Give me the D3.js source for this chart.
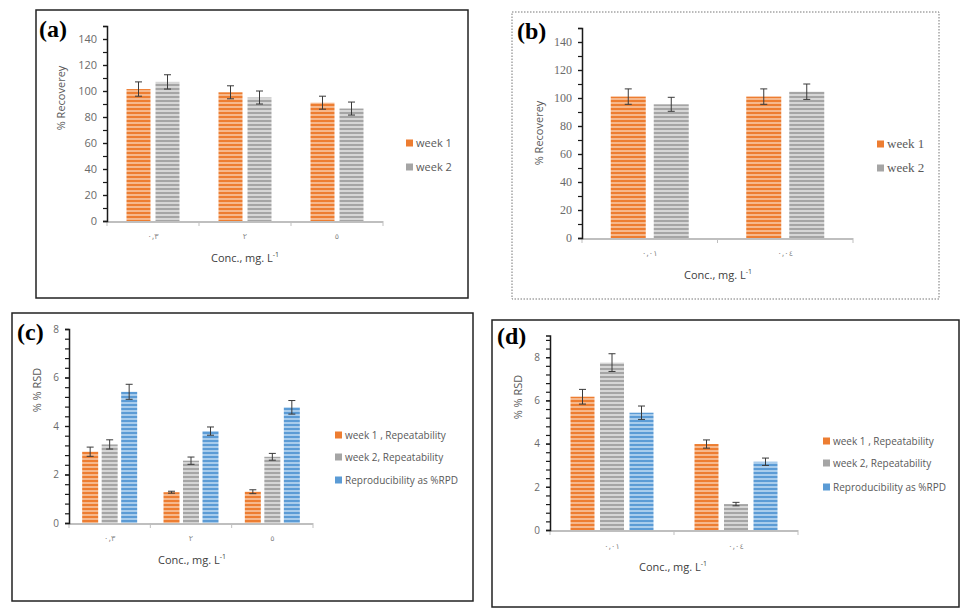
<!DOCTYPE html>
<html>
<head>
<meta charset="utf-8">
<script src="https://cdn.jsdelivr.net/npm/d3@7"></script>
<style>
  body { margin: 0; background: #fff; }
</style>
</head>
<body>
<div id="chart"></div>
<script>
// DATA
var catsA = ["٠,٣", "٢", "٥"];
var recWeek1A = [101.5, 99, 91];
var recErr1A = [5.5, 5, 5];
var recWeek2A = [107, 95, 86.5];
var recErr2A = [5.5, 5, 5];

var catsB = ["٠,٠١", "٠,٠٤"];
var recWeek1B = [101, 101];
var recErr1B = [5.5, 5.5];
var recWeek2B = [95.5, 104.5];
var recErr2B = [5, 5.5];

var rsdWeek1C = [2.94, 1.27, 1.29];
var rsdErr1C = [0.19, 0.04, 0.08];
var rsdWeek2C = [3.24, 2.57, 2.73];
var rsdErr2C = [0.19, 0.15, 0.14];
var rsdRepC = [5.41, 3.79, 4.77];
var rsdErrRepC = [0.31, 0.17, 0.28];

var rsdWeek1D = [6.17, 3.98];
var rsdErr1D = [0.34, 0.19];
var rsdWeek2D = [7.75, 1.2];
var rsdErr2D = [0.41, 0.08];
var rsdRepD = [5.43, 3.16];
var rsdErrRepD = [0.31, 0.17];

var recSeries = ["week 1", "week 2"];
var rsdSeries = ["week 1 , Repeatability", "week 2, Repeatability", "Reproducibility as %RPD"];
var recTicks = [0, 20, 40, 60, 80, 100, 120, 140];
var rsdTicks = [0, 2, 4, 6, 8];

var SANS = "'Open Sans', 'DejaVu Sans', sans-serif";
var SERIF = "'Liberation Serif', 'DejaVu Serif', serif";

var svg = d3.select("#chart").append("svg")
  .attr("width", 969)
  .attr("height", 614);

// STRIPED FILLS
var colors = [
  { id: "orange", dark: "#ED7D31", light: "#F6B88C" },
  { id: "gray", dark: "#A5A5A5", light: "#D6D6D6" },
  { id: "blue", dark: "#5B9BD5", light: "#A8CCEC" }
];
var defs = svg.append("defs");
colors.forEach(function(c) {
  var p = defs.append("pattern")
    .attr("id", "stripe-" + c.id)
    .attr("patternUnits", "userSpaceOnUse")
    .attr("width", 8)
    .attr("height", 4);
  p.append("rect").attr("width", 8).attr("height", 4).attr("fill", c.light);
  p.append("rect").attr("width", 8).attr("height", 2).attr("fill", c.dark);
});

function drawPanel(cfg) {
  var g = svg.append("g");

  // frame
  g.append("rect")
    .attr("x", cfg.frame[0])
    .attr("y", cfg.frame[1])
    .attr("width", cfg.frame[2] - cfg.frame[0])
    .attr("height", cfg.frame[3] - cfg.frame[1])
    .attr("fill", "none")
    .attr("stroke", cfg.dotted ? "#777" : "#222")
    .attr("stroke-width", cfg.dotted ? 1 : 1.5)
    .attr("stroke-dasharray", cfg.dotted ? "1.5,1.5" : null);

  var y = d3.scaleLinear().domain([0, cfg.yMax]).range([cfg.base, cfg.top]);
  var x = d3.scaleBand().domain(cfg.cats).range([cfg.x0, cfg.x1]);

  var n = cfg.series.length;
  var step = cfg.barW + cfg.gap;
  var pIn = cfg.gap / step;
  var pOut = (x.bandwidth() / step - n + pIn) / 2;
  var xs = d3.scaleBand().domain(d3.range(n)).range([0, x.bandwidth()])
    .paddingInner(pIn).paddingOuter(pOut);

  // bars
  cfg.values.forEach(function(vals, s) {
    var sg = g.append("g");
    sg.selectAll("rect")
      .data(vals)
      .enter()
      .append("rect")
      .attr("x", (d, i) => x(cfg.cats[i]) + xs(s))
      .attr("y", d => y(d))
      .attr("width", xs.bandwidth())
      .attr("height", d => y(0) - y(d))
      .attr("fill", "url(#stripe-" + colors[s].id + ")");

    // error bars
    var eg = sg.selectAll("g.err")
      .data(vals)
      .enter()
      .append("g")
      .attr("stroke", "#3a3a3a")
      .attr("stroke-width", 1);
    eg.each(function(d, i) {
      var e = cfg.errors[s][i];
      var cx = x(cfg.cats[i]) + xs(s) + xs.bandwidth() / 2;
      var el = d3.select(this);
      el.append("line").attr("x1", cx).attr("x2", cx).attr("y1", y(d + e)).attr("y2", y(d - e));
      el.append("line").attr("x1", cx - 3.5).attr("x2", cx + 3.5).attr("y1", y(d + e)).attr("y2", y(d + e));
      el.append("line").attr("x1", cx - 3.5).attr("x2", cx + 3.5).attr("y1", y(d - e)).attr("y2", y(d - e));
    });
  });

  // x axis
  var xAxis = g.append("g");
  xAxis.append("line")
    .attr("x1", cfg.x0).attr("x2", cfg.x1)
    .attr("y1", cfg.base + 1).attr("y2", cfg.base + 1)
    .attr("stroke", "#BFBFBF").attr("stroke-width", 2);
  xAxis.selectAll("line.tk")
    .data(cfg.cats.map(c => x(c)).concat([cfg.x1]))
    .enter()
    .append("line")
    .attr("x1", d => d).attr("x2", d => d)
    .attr("y1", cfg.base).attr("y2", cfg.base + 5)
    .attr("stroke", "#BFBFBF").attr("stroke-width", 1);
  xAxis.selectAll("text")
    .data(cfg.cats)
    .enter()
    .append("text")
    .attr("x", d => x(d) + x.bandwidth() / 2)
    .attr("y", cfg.catY)
    .attr("text-anchor", "middle")
    .style("font-family", "'DejaVu Sans', sans-serif")
    .style("font-size", "8px")
    .attr("fill", "#8a8a8a")
    .text(d => d);

  // y axis: minor ticks then labelled ticks
  var minor = d3.range(0, cfg.minorMax + cfg.minorStep / 2, cfg.minorStep);
  g.append("g")
    .attr("transform", `translate(${cfg.x0}, 0)`)
    .call(d3.axisLeft(y).tickValues(minor).tickSize(4).tickFormat(""))
    .call(a => a.select(".domain").attr("stroke", "#1a1a1a").attr("stroke-width", 1.5))
    .call(a => a.selectAll(".tick line").attr("stroke", "#1a1a1a").attr("stroke-width", 1.2));
  g.append("g")
    .attr("transform", `translate(${cfg.x0}, 0)`)
    .call(d3.axisLeft(y).tickValues(cfg.ticks).tickSize(4).tickPadding(6))
    .call(a => a.select(".domain").remove())
    .call(a => a.selectAll(".tick line").attr("stroke", "#1a1a1a").attr("stroke-width", 1.2))
    .call(a => a.selectAll(".tick text")
      .style("font-family", cfg.serif ? SERIF : SANS)
      .style("font-size", cfg.tickSize + "px")
      .attr("fill", "#6a6a6a"));

  // axis titles
  g.append("text")
    .attr("transform", `translate(${cfg.yLabel[0]}, ${cfg.yLabel[1]}) rotate(-90)`)
    .attr("text-anchor", "middle")
    .style("font-family", SANS)
    .style("font-size", "11px")
    .attr("fill", "#595959")
    .text(cfg.yTitle);

  var xt = g.append("text")
    .attr("x", cfg.xTitle[0])
    .attr("y", cfg.xTitle[1])
    .attr("text-anchor", "middle")
    .style("font-family", SANS)
    .style("font-size", "11px")
    .attr("fill", "#404040");
  xt.append("tspan").text("Conc., mg. L");
  xt.append("tspan").attr("dy", -5).style("font-size", "7px").text("-1");

  // legend
  var lg = g.selectAll("g.legend")
    .data(cfg.series)
    .enter()
    .append("g")
    .attr("transform", (d, i) => `translate(${cfg.legendX}, ${cfg.legendY[i]})`);
  lg.append("rect")
    .attr("x", 0).attr("y", -3.5)
    .attr("width", 7).attr("height", 7)
    .attr("fill", (d, i) => colors[i].dark);
  lg.append("text")
    .attr("x", 10)
    .attr("y", 4)
    .style("font-family", cfg.serif ? SERIF : SANS)
    .style("font-size", cfg.legendSize + "px")
    .attr("fill", "#595959")
    .text(d => d);

  // panel letter
  g.append("text")
    .attr("x", cfg.letter[0])
    .attr("y", cfg.letter[1])
    .style("font-family", SERIF)
    .style("font-weight", "bold")
    .style("font-size", "24px")
    .attr("fill", "#000")
    .text(cfg.letterText);
}

drawPanel({
  frame: [36, 10, 468, 298], letter: [39, 37], letterText: "(a)",
  cats: catsA, series: recSeries,
  values: [recWeek1A, recWeek2A], errors: [recErr1A, recErr2A],
  x0: 107, x1: 383, base: 221, top: 26, yMax: 150,
  ticks: recTicks, minorStep: 10, minorMax: 150, tickSize: 11,
  barW: 24, gap: 5,
  catY: 239, xTitle: [245, 262], yLabel: [65, 98], yTitle: "% Recoverey",
  legendX: 406, legendY: [143, 167], legendSize: 11
});

drawPanel({
  frame: [512, 12, 939, 299], dotted: true, serif: true, letter: [517, 39], letterText: "(b)",
  cats: catsB, series: recSeries,
  values: [recWeek1B, recWeek2B], errors: [recErr1B, recErr2B],
  x0: 582, x1: 853, base: 238, top: 28, yMax: 150,
  ticks: recTicks, minorStep: 10, minorMax: 150, tickSize: 12,
  barW: 35, gap: 8,
  catY: 256, xTitle: [718, 279], yLabel: [543, 133], yTitle: "% Recoverey",
  legendX: 877, legendY: [144, 168], legendSize: 13
});

drawPanel({
  frame: [12, 313, 473, 601], letter: [17, 340], letterText: "(c)",
  cats: catsA, series: rsdSeries,
  values: [rsdWeek1C, rsdWeek2C, rsdRepC], errors: [rsdErr1C, rsdErr2C, rsdErrRepC],
  x0: 69, x1: 313, base: 523, top: 329, yMax: 8,
  ticks: rsdTicks, minorStep: 0.4, minorMax: 8, tickSize: 10,
  barW: 16, gap: 3.5,
  catY: 541, xTitle: [192, 564], yLabel: [41, 390], yTitle: "% % RSD",
  legendX: 335, legendY: [435, 457, 480], legendSize: 10
});

drawPanel({
  frame: [492, 320, 959, 607], letter: [497, 344], letterText: "(d)",
  cats: catsB, series: rsdSeries,
  values: [rsdWeek1D, rsdWeek2D, rsdRepD], errors: [rsdErr1D, rsdErr2D, rsdErrRepD],
  x0: 550, x1: 798, base: 530, top: 335.6, yMax: 9,
  ticks: rsdTicks, minorStep: 0.4, minorMax: 8.8, tickSize: 10,
  barW: 24, gap: 5.5,
  catY: 549, xTitle: [673, 571], yLabel: [522, 397], yTitle: "% % RSD",
  legendX: 823, legendY: [441, 463, 487], legendSize: 10
});
</script>
</body>
</html>
